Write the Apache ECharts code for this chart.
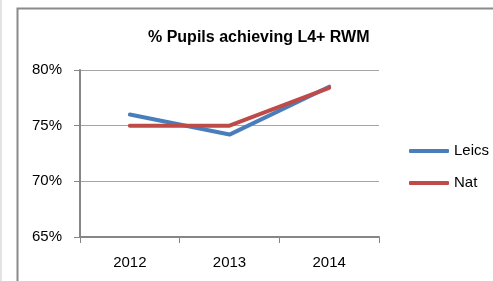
<!DOCTYPE html>
<html>
<head>
<meta charset="utf-8">
<script src="https://cdn.jsdelivr.net/npm/echarts@6/dist/echarts.min.js"></script>
<style>
html,body{margin:0;padding:0;background:#fff;}
#chart{width:493px;height:281px;}
</style>
</head>
<body>
<div id="chart"></div>
<script>
const categories = ['2012', '2013', '2014'];
const leics = [0.760, 0.742, 0.785];
const nat = [0.750, 0.750, 0.784];
const yTicks = [0.65, 0.70, 0.75, 0.80];
const titleText = '% Pupils achieving L4+ RWM';

const chart = echarts.init(document.getElementById('chart'), null, {renderer: 'canvas'});
const font = 'Liberation Sans, Arial, sans-serif';
chart.setOption({
  animation: false,
  backgroundColor: '#ffffff',
  graphic: [
    {type: 'rect', shape: {x: 0, y: 0, width: 2, height: 281}, style: {fill: '#e3e3e3'}, silent: true},
    {type: 'polyline', shape: {points: [[17.5, 281], [17.5, 8.5], [493, 8.5]]}, style: {stroke: '#8a8a8a', lineWidth: 2, fill: null}, silent: true}
  ],
  title: {
    text: titleText,
    left: 143, top: 25,
    textStyle: {fontFamily: font, fontWeight: 'bold', fontSize: 16, color: '#000'}
  },
  legend: {
    orient: 'vertical', left: 404, top: 138, itemWidth: 40, itemHeight: 4, itemGap: 16,
    icon: 'roundRect',
    data: ['Leics', 'Nat'],
    textStyle: {fontFamily: font, fontSize: 15, color: '#000', lineHeight: 16}
  },
  grid: {left: 80, right: 114, top: 70, bottom: 44, containLabel: false},
  xAxis: {
    type: 'category', data: categories, boundaryGap: true,
    axisLine: {lineStyle: {color: '#868686', width: 2}},
    axisTick: {show: true, length: 6, alignWithLabel: false, lineStyle: {color: '#868686', width: 1}},
    axisLabel: {fontFamily: font, fontSize: 15, color: '#000', margin: 18}
  },
  yAxis: {
    type: 'value', min: 0.65, max: 0.80, interval: 0.05,
    axisLine: {show: true, lineStyle: {color: '#868686', width: 2}},
    axisTick: {show: true, length: 6, lineStyle: {color: '#868686', width: 1}},
    splitLine: {lineStyle: {color: '#a6a6a6', width: 1}},
    axisLabel: {fontFamily: font, fontSize: 15, color: '#000', margin: 18,
      formatter: v => Math.round(v * 100) + '%'}
  },
  series: [
    {name: 'Leics', type: 'line', data: leics, symbol: 'none', z: 2,
      lineStyle: {color: '#4a7ebb', width: 4, cap: 'round'}, itemStyle: {color: '#4a7ebb'}},
    {name: 'Nat', type: 'line', data: nat, symbol: 'none', z: 3,
      lineStyle: {color: '#be4b48', width: 4, cap: 'round'}, itemStyle: {color: '#be4b48'}}
  ]
});
</script>
</body>
</html>
